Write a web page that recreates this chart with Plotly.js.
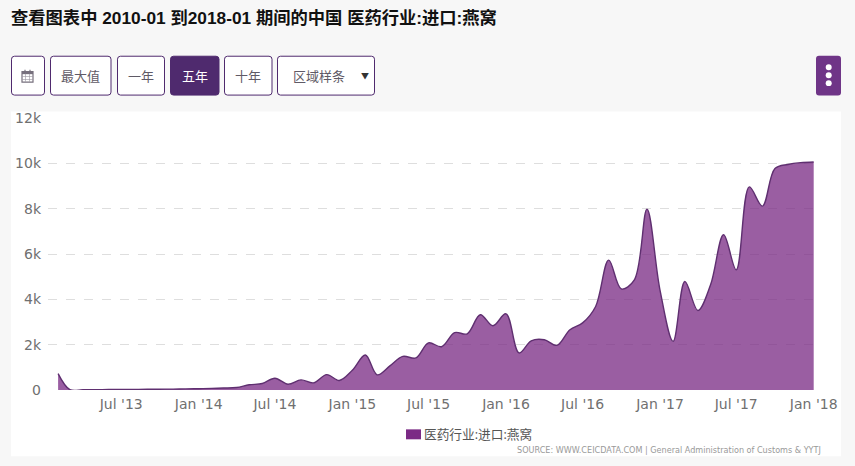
<!DOCTYPE html>
<html><head><meta charset="utf-8">
<script src="https://cdn.plot.ly/plotly-3.0.1.min.js"></script>
<style>html,body{margin:0;padding:0;background:#f7f7f7}#c{width:855px;height:466px}</style>
</head><body><div id="c"></div>
<script>
const seriesName = '医药行业:进口:燕窝';
const titleText = '查看图表中 2010-01 到2018-01 期间的中国 医药行业:进口:燕窝';
const sourceText = 'SOURCE: WWW.CEICDATA.COM | General Administration of Customs &amp; YYTJ';
const months = ['2013-02','2013-03','2013-04','2013-05','2013-06','2013-07','2013-08','2013-09','2013-10','2013-11','2013-12',
 '2014-01','2014-02','2014-03','2014-04','2014-05','2014-06','2014-07','2014-08','2014-09','2014-10','2014-11','2014-12',
 '2015-01','2015-02','2015-03','2015-04','2015-05','2015-06','2015-07','2015-08','2015-09','2015-10','2015-11','2015-12',
 '2016-01','2016-02','2016-03','2016-04','2016-05','2016-06','2016-07','2016-08','2016-09','2016-10','2016-11','2016-12',
 '2017-01','2017-02','2017-03','2017-04','2017-05','2017-06','2017-07','2017-08','2017-09','2017-10','2017-11','2017-12','2018-01'];
const values = [725,15,10,15,20,25,28,32,36,40,48,
 58,70,85,110,230,285,520,255,445,315,680,420,
 870,1545,670,1077,1485,1415,2080,1910,2530,2480,3320,2835,
 3360,1635,2170,2215,1970,2660,2960,3685,5730,4460,4860,7980,
 4400,2145,4785,3510,4640,6850,5300,8960,8110,9770,9950,10030,10060];
const xTickVals = ['2013-07','2014-01','2014-07','2015-01','2015-07','2016-01','2016-07','2017-01','2017-07','2018-01'];
const xTickText = ["Jul '13","Jan '14","Jul '14","Jan '15","Jul '15","Jan '16","Jul '16","Jan '17","Jul '17","Jan '18"];
const yTickVals = [0,2000,4000,6000,8000,10000,12000];
const yTickText = ['0','2k','4k','6k','8k','10k','12k'];
const buttonLabels = ['最大值','一年','五年','十年','区域样条'];

const W=855,H=466,L=48,R=35,T=117.5,B=75.5;
const px=x=>(x-L)/(W-L-R), py=y=>1-(y-T)/(H-T-B);
const sansCJK='"Open Sans","Noto Sans CJK SC",sans-serif';
function rr(x0,y0,x1,y1,r,fill,line){
  const p=`M${px(x0+r)},${py(y0)} L${px(x1-r)},${py(y0)} Q${px(x1)},${py(y0)} ${px(x1)},${py(y0+r)} L${px(x1)},${py(y1-r)} Q${px(x1)},${py(y1)} ${px(x1-r)},${py(y1)} L${px(x0+r)},${py(y1)} Q${px(x0)},${py(y1)} ${px(x0)},${py(y1-r)} L${px(x0)},${py(y0+r)} Q${px(x0)},${py(y0)} ${px(x0+r)},${py(y0)} Z`;
  return {type:'path',xref:'paper',yref:'paper',path:p,fillcolor:fill,line:{color:line||fill,width:line?1:0},layer:'below'};
}
function rect(x0,y0,x1,y1,fill,lineC,w){return {type:'rect',xref:'paper',yref:'paper',x0:px(x0),x1:px(x1),y0:py(y0),y1:py(y1),fillcolor:fill,line:{color:lineC||fill,width:lineC?(w||1):0},layer:'above'};}
function dot(cx,cy,r){return {type:'circle',xref:'paper',yref:'paper',x0:px(cx-r),x1:px(cx+r),y0:py(cy+r),y1:py(cy-r),fillcolor:'#fff',line:{width:0},layer:'above'};}
function txt(t,x,y,size,color,anchor,family,extra){return Object.assign({xref:'paper',yref:'paper',x:px(x),y:py(y),text:t,showarrow:false,xanchor:anchor||'center',yanchor:'middle',font:{size:size,color:color,family:family||sansCJK},borderpad:0,borderwidth:0,captureevents:false},extra||{});}

const dark='#4f2a6e';
const btns=[[50,111,0],[117,164.5,1],[170,219,2],[224,272,3]];
const shapes=[
  rect(11,111,841,457,'#ffffff'),
];
shapes[0].layer='below';
shapes.push(rr(11.5,55.5,44.5,94.5,3,'#ffffff',dark));
btns.forEach(b=>shapes.push(rr(b[0]+.5,55.5,b[1],94.5,3,b[2]==2?dark:'#ffffff',dark)));
shapes.push(rr(277.5,55.5,374.5,94.5,3,'#ffffff',dark));
shapes.push(rr(816,55,841,95,3,'#6f3587'));
[66.5,74.5,82.5].forEach(y=>shapes.push(dot(828.7,y,3)));
// calendar icon
shapes.push(rect(22,71,33,81.5,'#ffffff','#77707d',1.2));
shapes.push(rect(22,71,33,73.5,'#77707d'));
[25,30].forEach(x=>shapes.push(rect(x-.6,69,x+.6,72,'#77707d')));
[25.7,29.3].forEach(x=>shapes.push(rect(x-.3,73,x+.3,81,'#9a95a0')));
[76,78.8].forEach(y=>shapes.push(rect(22,y-.3,33,y+.3,'#9a95a0')));
// legend swatch
shapes.push(rect(406,430,421,440,'#7b2a85'));

const anns=[];
const cx={0:80.5,1:141,2:194.5,3:248};
buttonLabels.slice(0,4).forEach((t,i)=>anns.push(txt(t,cx[i],75,13,i==2?'#ffffff':'#5f5a66')));
anns.push(txt(buttonLabels[4],319,75.5,13,'#5f5a66'));
anns.push(txt('▼',364.5,74.5,8,'#333333'));
anns.push(txt(seriesName,424,435,12.7,'#555555','left'));
anns.push(txt(sourceText,820.5,451,8.1,'#999999','right','"DejaVu Sans",sans-serif'));

const trace={x:months,y:values,type:'scatter',mode:'lines',name:seriesName,
  line:{shape:'spline',smoothing:1,color:'#5f2f70',width:1.4},
  fill:'tozeroy',fillcolor:'rgba(122,44,133,0.76)',hoverinfo:'x+y'};
const layout={
  width:W,height:H,margin:{l:L,r:R,t:T,b:B,pad:0},
  paper_bgcolor:'#f7f7f7',plot_bgcolor:'rgba(0,0,0,0)',showlegend:false,
  title:{text:'<b>'+titleText+'</b>',x:11/W,xanchor:'left',y:1-18/H,yanchor:'middle',
    font:{size:17.3,color:'#111111',family:'"Liberation Sans","Noto Sans CJK SC",sans-serif'}},
  xaxis:{type:'date',range:['2013-01-08','2018-01-16'],tickmode:'array',tickvals:xTickVals,ticktext:xTickText,
    showgrid:false,zeroline:false,showline:false,ticks:'',tickangle:0,ticklabelstandoff:4,
    tickfont:{size:14,color:'#707070',family:'"DejaVu Sans",sans-serif'}},
  yaxis:{range:[0,12000],tickmode:'array',tickvals:yTickVals,ticktext:yTickText,
    showgrid:true,gridcolor:'#dedede',griddash:'dash',gridwidth:1,zeroline:false,showline:false,ticks:'',
    ticklabelstandoff:6,tickfont:{size:14,color:'#707070',family:'"DejaVu Sans",sans-serif'}},
  shapes:shapes,annotations:anns
};
Plotly.newPlot('c',[trace],layout,{displayModeBar:false,staticPlot:true});
</script></body></html>
